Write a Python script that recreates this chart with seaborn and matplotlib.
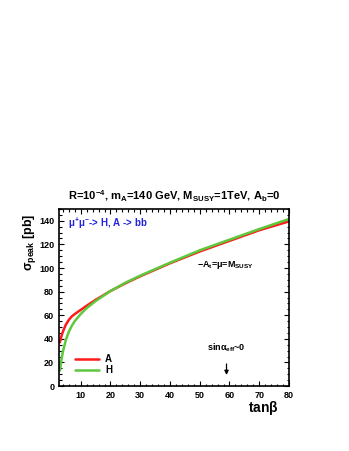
import numpy as np
import pandas as pd
import matplotlib
matplotlib.use("Agg")
import matplotlib.pyplot as plt
from matplotlib.ticker import MultipleLocator
import seaborn as sns

# values
tanb = [3, 3.5, 4, 5, 6, 7, 8, 10, 12, 15, 20, 25, 30, 40, 50, 60, 70, 80]
sigma_A = [37, 42, 46, 52, 56, 59, 61, 64.5, 68, 73, 80.5, 87, 93, 104, 114, 123, 132, 139.5]
sigma_H = [13, 22, 29, 39, 46, 51, 55, 61, 66, 72, 80.5, 87.5, 93.5, 104.5, 115, 124, 133, 141.5]
series_names = ["A", "H"]
series_colors = {"A": "#ff1a1a", "H": "#5ec83c"}

df = pd.concat([
    pd.DataFrame({"tanb": tanb, "sigma": sigma_A, "higgs": "A"}),
    pd.DataFrame({"tanb": tanb, "sigma": sigma_H, "higgs": "H"}),
])

sns.set_style("ticks")
plt.rcParams["font.family"] = ["Liberation Sans", "DejaVu Sans"]
plt.rcParams["font.weight"] = "bold"
plt.rcParams["text.color"] = "black"
plt.rcParams["axes.labelcolor"] = "black"
plt.rcParams["xtick.color"] = "black"
plt.rcParams["ytick.color"] = "black"
plt.rcParams["axes.edgecolor"] = "black"
plt.rcParams["mathtext.fontset"] = "custom"
plt.rcParams["mathtext.rm"] = "Liberation Sans:bold"
plt.rcParams["mathtext.it"] = "Liberation Sans:bold"
plt.rcParams["mathtext.bf"] = "Liberation Sans:bold"
plt.rcParams["mathtext.default"] = "rm"

fig = plt.figure(figsize=(3.49, 4.51), dpi=100)
ax = fig.add_axes([59 / 349, 1 - 386 / 451, 230 / 349, 177 / 451])

sns.lineplot(data=df, x="tanb", y="sigma", hue="higgs", hue_order=series_names,
             palette=series_colors, linewidth=1.8, ax=ax, legend=False)

ax.set_xlim(2.7, 80)
ax.set_ylim(0, 150)
ax.xaxis.set_major_locator(MultipleLocator(10))
ax.xaxis.set_minor_locator(MultipleLocator(2))
ax.yaxis.set_major_locator(MultipleLocator(20))
ax.yaxis.set_minor_locator(MultipleLocator(5))
ax.tick_params(which="both", direction="in", top=True, right=True, labelsize=6.5, width=0.8)
ax.tick_params(which="major", length=3.5)
ax.tick_params(which="minor", length=1.8)
for lbl in ax.get_xticklabels() + ax.get_yticklabels():
    lbl.set_fontweight("bold")
for s in ax.spines.values():
    s.set_linewidth(1.2)

ax.set_xlabel(r"tan$\beta$", fontsize=10, fontweight="bold")
ax.xaxis.set_label_coords(0.887, -0.075)
ax.set_ylabel(r"$\sigma_{peak}$ [pb]", fontsize=9, fontweight="bold")
ax.yaxis.set_label_coords(-0.09, 0.81)
ax.set_title(r"R=10$^{-4}$, m$_A$=140 GeV, M$_{SUSY}$=1TeV, A$_b$=0",
             fontsize=8, fontweight="bold", pad=6)

# legend drawn as short segments
for i, name in enumerate(series_names):
    yy = 0.153 - i * 0.063
    ax.plot([0.07, 0.174], [yy, yy], color=series_colors[name], linewidth=1.8,
            transform=ax.transAxes)
    ax.text(0.2, yy, name, transform=ax.transAxes, fontsize=7, va="center",
            fontweight="bold")

ax.text(0.04, 0.9, r"$\mu^{+}\mu^{-}$-> H, A -> bb", transform=ax.transAxes,
        fontsize=7, color="#2323e0", fontweight="bold")
ax.text(0.6, 0.67, r"$-$A$_t$=$\mu$=M$_{SUSY}$", transform=ax.transAxes,
        fontsize=6.5, fontweight="bold")
ax.text(59, 32, r"sin$\alpha_{eff}$~0", fontsize=6.5, ha="center", va="center",
        fontweight="bold")
ax.annotate("", xy=(59, 7), xytext=(59, 21),
            arrowprops=dict(arrowstyle="-|>", color="black", lw=0.9, mutation_scale=6))

fig.savefig("out.png", dpi=100)
